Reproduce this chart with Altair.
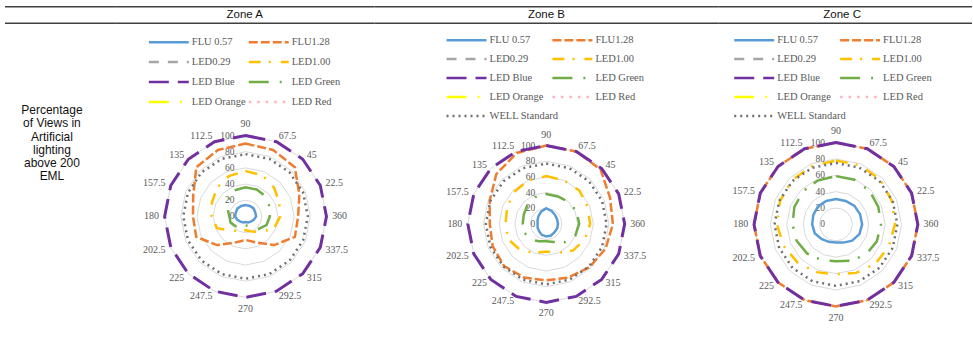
import altair as alt
import pandas as pd

# ---------------------------------------------------------------- data
DIRECTIONS = [90, 67.5, 45, 22.5, 360, 337.5, 315, 292.5, 270, 247.5, 225, 202.5, 180, 157.5, 135, 112.5]
DIRECTION_LABELS = ["90", "67.5", "45", "22.5", "360", "337.5", "315", "292.5",
                    "270", "247.5", "225", "202.5", "180", "157.5", "135", "112.5"]
RING_LEVELS = [0, 20, 40, 60, 80, 100]

ZONES = ["Zone A", "Zone B", "Zone C"]
ROW_TITLE = "Percentage\nof Views in\nArtificial\nlighting\nabove 200\nEML"

SERIES = ["FLU 0.57", "FLU1.28", "LED0.29", "LED1.00", "LED Blue",
          "LED Green", "LED Orange", "LED Red", "WELL Standard"]

# percentage of views per view direction (same order as DIRECTIONS)
A_FLU057 = [14, 14, 14, 13, 13, 11, 9, 8, 7, 8, 9, 11, 13, 13, 14, 14]
A_FLU128 = [90, 89, 86, 72, 65, 66, 50, 35, 29, 35, 50, 66, 65, 70, 86, 89]
A_LED100 = [56, 55, 50, 45, 43, 38, 27, 20, 17, 19, 25, 38, 42, 45, 50, 54]
A_BLUE = [100, 100, 100, 100, 100, 100, 100, 100, 100, 100, 100, 100, 100, 100, 100, 100]
A_GREEN = [36, 36, 35, 32, 30, 28, 22, 13, 11, 13, 17, 20, 20, 24, 30, 35]
A_WELL = [77, 77, 77, 77, 77, 77, 77, 77, 77, 77, 77, 77, 77, 77, 77, 77]

B_FLU057 = [20, 18, 16, 15, 15, 15, 15, 16, 16, 15, 13, 12, 11, 12, 14, 17]
B_FLU128 = [100, 100, 98, 88, 85, 82, 78, 74, 72, 74, 76, 74, 72, 78, 90, 98]
B_LED100 = [61, 60, 60, 57, 56, 53, 48, 40, 35, 40, 47, 52, 52, 54, 58, 60]
B_BLUE = [100, 100, 100, 100, 100, 100, 100, 100, 100, 100, 100, 100, 100, 100, 100, 100]
B_GREEN = [38, 38, 40, 42, 42, 40, 33, 25, 22, 24, 28, 30, 30, 31, 34, 37]
B_WELL = [77, 77, 77, 77, 77, 77, 77, 77, 77, 77, 77, 77, 77, 77, 77, 77]

C_FLU057 = [31, 31, 32, 32, 32, 31, 28, 24, 22, 23, 25, 28, 29, 30, 31, 31]
C_FLU128 = [100, 100, 100, 100, 100, 100, 100, 100, 100, 100, 100, 100, 100, 100, 100, 100]
C_LED100 = [78, 78, 77, 74, 72, 70, 68, 64, 61, 63, 66, 69, 72, 74, 76, 77]
C_BLUE = [100, 100, 100, 100, 100, 100, 100, 100, 100, 100, 100, 100, 100, 100, 100, 100]
C_GREEN = [59, 59, 58, 56, 55, 54, 52, 48, 45, 47, 50, 52, 53, 55, 57, 58]
C_WELL = [75, 75, 75, 75, 75, 75, 75, 75, 75, 75, 75, 75, 75, 75, 75, 75]

ZONE_VALUES = {
    "Zone A": {"FLU 0.57": A_FLU057, "FLU1.28": A_FLU128, "LED1.00": A_LED100,
               "LED Blue": A_BLUE, "LED Green": A_GREEN, "WELL Standard": A_WELL},
    "Zone B": {"FLU 0.57": B_FLU057, "FLU1.28": B_FLU128, "LED1.00": B_LED100,
               "LED Blue": B_BLUE, "LED Green": B_GREEN, "WELL Standard": B_WELL},
    "Zone C": {"FLU 0.57": C_FLU057, "FLU1.28": C_FLU128, "LED1.00": C_LED100,
               "LED Blue": C_BLUE, "LED Green": C_GREEN, "WELL Standard": C_WELL},
}
LEGEND_ENTRIES = {
    "Zone A": SERIES[:8],
    "Zone B": SERIES,
    "Zone C": SERIES,
}

# ---------------------------------------------------------------- styles
STYLE = {
    "FLU 0.57": ("#5B9BD5", [1, 0], 2.5),
    "FLU1.28": ("#ED7D31", [9, 3], 2.5),
    "LED0.29": ("#A5A5A5", [10, 9], 2.5),
    "LED1.00": ("#FFC000", [12, 8, 2, 10], 2.5),
    "LED Blue": ("#7030A0", [20, 9], 3),
    "LED Green": ("#70AD47", [20, 11, 2, 9], 2.5),
    "LED Orange": ("#FFFF00", [20, 11, 2, 9], 2.5),
    "LED Red": ("#FFB3BF", [2.5, 6], 2.5),
    "WELL Standard": ("#6F6F6F", [2, 4], 2.5),
}
DRAW_ORDER = ["FLU 0.57", "FLU1.28", "LED1.00", "LED Blue", "LED Green", "WELL Standard"]

H = 338
SERIF = "Liberation Serif"
SANS = "Liberation Sans"
LABEL_GREY = "#595959"
RULE_COLOR = "#404040"

# panel layout: left edge, width, radar centre (px), px per percent,
# header x, legend columns (px), legend first row y and row step
PANELS = {
    "Zone A": dict(x0=116, w=259, cx=245.8, cy=216.5, k=0.81, hx=245,
                   cols=(149, 249), ly=42, dy=20),
    "Zone B": dict(x0=375, w=344, cx=546.8, cy=224.0, k=0.785, hx=547,
                   cols=(447, 553), ly=40, dy=19),
    "Zone C": dict(x0=719, w=254, cx=836.8, cy=224.5, k=0.82, hx=843,
                   cols=(735, 841), ly=40, dy=19),
}
SAMPLE_LEN = 40

COLOR_SCALE = alt.Scale(domain=SERIES, range=[STYLE[n][0] for n in SERIES])
DASH_SCALE = alt.Scale(domain=SERIES, range=[STYLE[n][1] for n in SERIES])


def header_layers(width, x_start=0):
    base = alt.Chart(pd.DataFrame({"a": [0]}))
    top = base.mark_rule(color=RULE_COLOR, strokeWidth=1.5).encode(
        x=alt.value(x_start), x2=alt.value(width), y=alt.value(6.5))
    bottom = base.mark_rule(color=RULE_COLOR, strokeWidth=1.5).encode(
        x=alt.value(x_start), x2=alt.value(width), y=alt.value(23))
    return [top, bottom]


def zone_panel(zone):
    p = PANELS[zone]
    k, cx, cy, x0, w = p["k"], p["cx"], p["cy"], p["x0"], p["w"]
    rel_cx = cx - x0
    xs = alt.Scale(domain=[-rel_cx / k, (w - rel_cx) / k], nice=False, zero=False)
    ys = alt.Scale(domain=[-(H - cy) / k, cy / k], nice=False, zero=False)

    def X(f):
        return alt.X(f, type="quantitative", scale=xs, axis=None)

    def Y(f):
        return alt.Y(f, type="quantitative", scale=ys, axis=None)

    layers = header_layers(w)
    layers.append(
        alt.Chart(pd.DataFrame({"a": [0]})).mark_text(
            font=SANS, fontSize=11.5, color="#111111", baseline="middle", align="center"
        ).encode(x=alt.value(p["hx"] - x0), y=alt.value(15), text=alt.value(zone))
    )

    # polygonal grid rings
    grid = pd.DataFrame([
        {"level": lv, "direction": d, "idx": i}
        for lv in RING_LEVELS[1:] for i, d in enumerate(DIRECTIONS)
    ])
    layers.append(
        alt.Chart(grid).transform_calculate(
            gx="datum.level*cos(datum.direction*PI/180)",
            gy="datum.level*sin(datum.direction*PI/180)",
        ).mark_line(color="#D9D9D9", strokeWidth=1, interpolate="linear-closed").encode(
            x=X("gx"), y=Y("gy"), detail="level:N", order="idx:Q")
    )

    # radial axis labels
    rings = pd.DataFrame({"level": RING_LEVELS, "zero": [0] * len(RING_LEVELS)})
    layers.append(
        alt.Chart(rings).mark_text(
            font=SERIF, fontSize=9.5, color=LABEL_GREY, align="right", baseline="middle", dx=-11
        ).encode(x=X("zero"), y=Y("level"), text="level:Q")
    )

    # data series
    rows = []
    for name, vals in ZONE_VALUES[zone].items():
        for i, (d, v) in enumerate(zip(DIRECTIONS, vals)):
            rows.append({"series": name, "direction": d, "value": v, "idx": i})
    df = pd.DataFrame(rows)
    for name in DRAW_ORDER:
        color, dash, sw = STYLE[name]
        kw = dict(color=color, strokeWidth=sw, interpolate="linear-closed", strokeCap="butt")
        if name != "FLU 0.57":
            kw["strokeDash"] = dash
        layers.append(
            alt.Chart(df).transform_filter(alt.datum.series == name).transform_calculate(
                px="datum.value*cos(datum.direction*PI/180)",
                py="datum.value*sin(datum.direction*PI/180)",
            ).mark_line(**kw).encode(x=X("px"), y=Y("py"), order="idx:Q")
        )

    # direction labels around the rim
    lab = pd.DataFrame({"direction": DIRECTIONS, "label": DIRECTION_LABELS})
    lab_base = alt.Chart(lab).transform_calculate(
        c="cos(datum.direction*PI/180)",
        s="sin(datum.direction*PI/180)",
    ).transform_calculate(
        lr="abs(datum.c) < 0.1 ? 114 : 107",
    ).transform_calculate(
        lx="datum.lr*datum.c", ly="datum.lr*datum.s",
    )
    for cond, align in [("datum.c > 0.1", "left"), ("datum.c < -0.1", "right"),
                        ("abs(datum.c) <= 0.1", "center")]:
        layers.append(
            lab_base.transform_filter(cond).mark_text(
                font=SERIF, fontSize=10, color=LABEL_GREY, align=align, baseline="middle"
            ).encode(x=X("lx"), y=Y("ly"), text="label:N")
        )

    # legend (two columns)
    entries = LEGEND_ENTRIES[zone]
    leg_rows = []
    for i, name in enumerate(entries):
        sx = p["cols"][i % 2]
        sy = p["ly"] + (i // 2) * p["dy"]
        leg_rows.append({
            "series": name,
            "x1": (sx - cx) / k,
            "x2": (sx + SAMPLE_LEN - cx) / k,
            "tx": (sx + SAMPLE_LEN + 3 - cx) / k,
            "y": (cy - sy) / k,
        })
    leg = pd.DataFrame(leg_rows)
    layers.append(
        alt.Chart(leg).mark_rule(strokeWidth=2.5, strokeCap="butt").encode(
            x=X("x1"), x2="x2:Q", y=Y("y"),
            color=alt.Color("series:N", legend=None, scale=COLOR_SCALE),
            strokeDash=alt.StrokeDash("series:N", legend=None, scale=DASH_SCALE),
        )
    )
    layers.append(
        alt.Chart(leg).mark_text(
            font=SERIF, fontSize=10.5, color=LABEL_GREY, align="left", baseline="middle"
        ).encode(x=X("tx"), y=Y("y"), text="series:N")
    )

    return alt.layer(*layers).properties(width=w, height=H)


# left column: row heading
left_w = 116
left = alt.layer(
    *header_layers(left_w, x_start=5),
    alt.Chart(pd.DataFrame({"a": [0]})).mark_text(
        font=SANS, fontSize=12, color="#111111", align="center", baseline="middle",
        lineBreak="\n", lineHeight=13.3
    ).encode(x=alt.value(52), y=alt.value(110), text=alt.value(ROW_TITLE)),
).properties(width=left_w, height=H)

chart = alt.hconcat(
    left, *[zone_panel(z) for z in ZONES],
    spacing=0, bounds="flush", padding=0, background="white",
).configure_view(stroke=None)

chart.save("out.html", embed_options={"renderer": "svg", "actions": False})
